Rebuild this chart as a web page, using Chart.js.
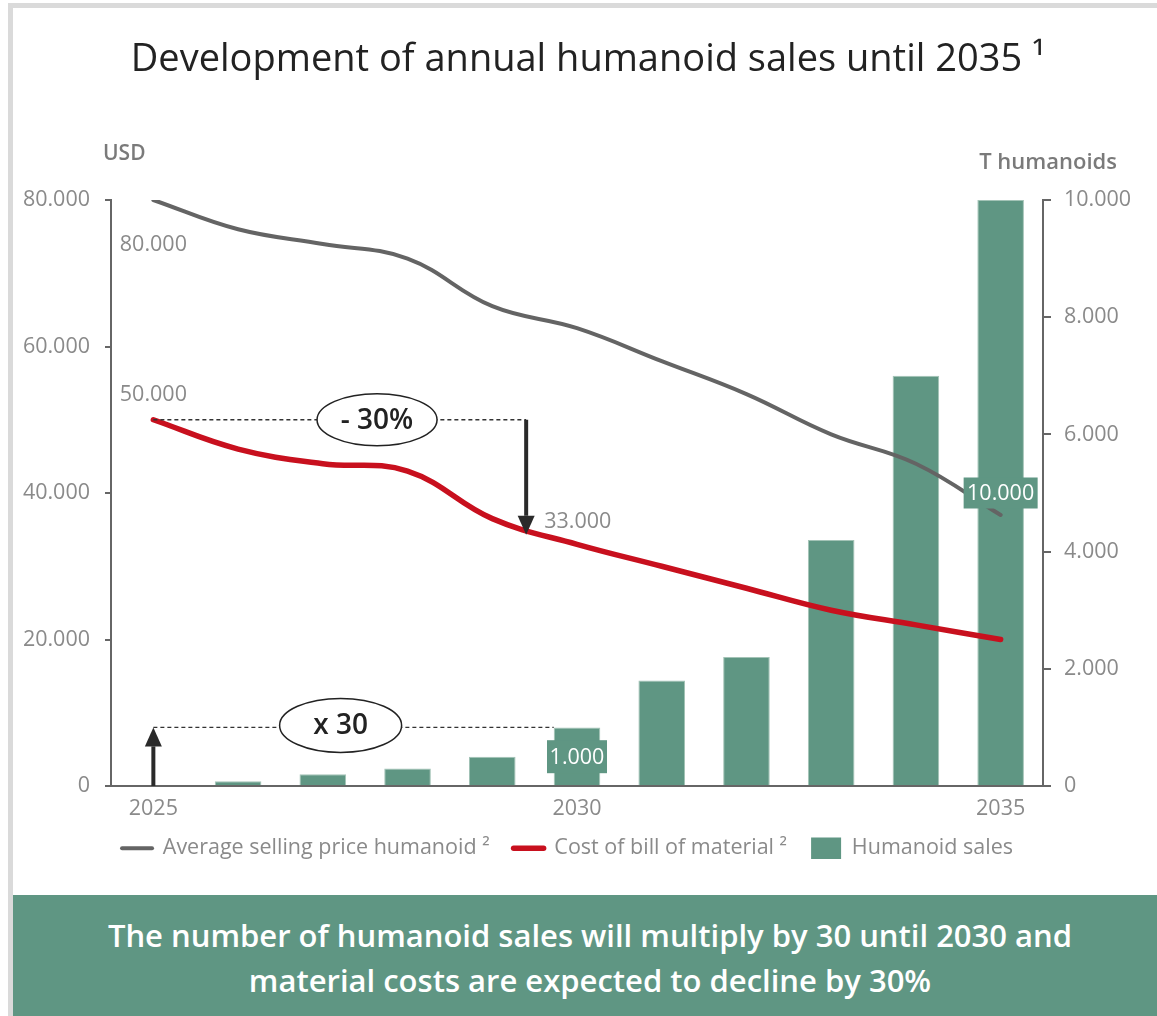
<!DOCTYPE html>
<html><head><meta charset="utf-8">
<script src="https://cdn.jsdelivr.net/npm/chart.js@4.4.1/dist/chart.umd.min.js"></script>
<style>
html,body{margin:0;padding:0;background:#fff;width:1157px;height:1016px;overflow:hidden;font-family:'Open Sans',sans-serif;}
#frame{position:absolute;left:8px;top:3px;width:1170px;height:1100px;border:5px solid #dadada;box-sizing:border-box;}
#title{position:absolute;left:0;width:1176px;top:37px;text-align:center;font-size:38px;line-height:38px;font-weight:500;color:#222;white-space:nowrap;}
#wrap{position:absolute;left:0;top:0;width:1157px;height:890px;}
.axt{position:absolute;font-weight:600;color:#7a7a7a;white-space:nowrap;}
#banner{position:absolute;left:13px;top:895px;width:1154px;height:130px;background:#5f9683;color:#fff;font-size:31px;font-weight:600;text-align:center;line-height:45px;box-sizing:border-box;padding-top:18px;}
</style></head>
<body>
<div id="frame"></div>
<div id="wrap"><canvas id="c"></canvas></div>
<div id="title">Development of annual humanoid sales until 2035 ¹</div>
<div class="axt" style="left:103px;top:142px;font-size:21px;line-height:21px;">USD</div>
<div class="axt" style="right:40px;top:149px;font-size:22px;line-height:22px;">T humanoids</div>
<div id="banner">The number of humanoid sales will multiply by 30 until 2030 and<br>material costs are expected to decline by 30%</div>
<script>
const years = ['2025','2026','2027','2028','2029','2030','2031','2032','2033','2034','2035'];
const xTickLabels = ['2025','','','','','2030','','','','','2035'];
const aspUsd = [80000,76000,74000,72000,65500,62500,58000,53500,48000,44000,37000];
const bomUsd = [50000,46000,44000,43000,36500,33000,30000,27000,24000,22000,20000];
const salesT = [0,80,200,300,500,1000,1800,2200,4200,7000,10000];
const usdTicks = [0,20000,40000,60000,80000];
const unitTicks = [0,2000,4000,6000,8000,10000];
const seriesNames = ['Average selling price humanoid ²','Cost of bill of material ²','Humanoid sales'];
const bomStart = 50000, bomTarget = 33000, bomArrowEnd = 34300;
const salesStart = 0, salesTarget = 1000;
const dropLabel = '- 30%', growLabel = 'x 30';

const fmt = v => String(v).replace(/\B(?=(\d{3})+(?!\d))/g, '.');
const GREY = '#646464', RED = '#c8101e', GREEN = '#5f9683', TXT = '#8a8a8a', AX = '#666666';
const FONT = '"Open Sans", sans-serif';
const FS = 21.5;

function ellipseLabel(ctx, cx, cy, rx, ry, text) {
  ctx.save();
  ctx.beginPath();
  ctx.ellipse(cx, cy, rx, ry, 0, 0, Math.PI * 2);
  ctx.fillStyle = '#fff'; ctx.fill();
  ctx.lineWidth = 1.5; ctx.strokeStyle = '#222'; ctx.stroke();
  ctx.fillStyle = '#222'; ctx.font = '600 28px ' + FONT;
  ctx.textAlign = 'center'; ctx.textBaseline = 'middle';
  ctx.fillText(text, cx, cy + 1);
  ctx.restore();
}
function arrow(ctx, x, y0, y1) {
  const dir = y1 > y0 ? 1 : -1, hh = 19, hw = 8.5;
  ctx.save();
  ctx.strokeStyle = '#2a2a2a'; ctx.fillStyle = '#2a2a2a'; ctx.lineWidth = 4;
  ctx.beginPath(); ctx.moveTo(x, y0); ctx.lineTo(x, y1 - dir * hh); ctx.stroke();
  ctx.beginPath(); ctx.moveTo(x, y1); ctx.lineTo(x - hw, y1 - dir * hh); ctx.lineTo(x + hw, y1 - dir * hh); ctx.closePath(); ctx.fill();
  ctx.restore();
}
function dashed(ctx, x0, x1, y) {
  ctx.save(); ctx.setLineDash([4, 3]); ctx.lineWidth = 1.3; ctx.strokeStyle = '#333';
  ctx.beginPath(); ctx.moveTo(x0, y); ctx.lineTo(x1, y); ctx.stroke(); ctx.restore();
}
function boxLabel(ctx, cx, cy, w, h, text) {
  ctx.save(); ctx.fillStyle = GREEN; ctx.fillRect(cx - w / 2, cy - h / 2, w, h);
  ctx.fillStyle = '#fff'; ctx.font = FS + 'px ' + FONT; ctx.textAlign = 'center'; ctx.textBaseline = 'middle';
  ctx.fillText(text, cx, cy + 1); ctx.restore();
}

const legendShift = {
  id: 'legendShift',
  afterLayout(chart) {
    if (chart.legend) { chart.legend.top -= 13; chart.legend.bottom -= 13; }
  }
};

const annot = {
  id: 'annot',
  afterDatasetsDraw(chart) {
    const { ctx, scales: { x, yL, yR } } = chart;
    const x0 = x.getPixelForValue(0), step = x.getPixelForValue(1) - x0;
    const px = i => x0 + i * step;
    const last = years.length - 1, i2030 = years.indexOf('2030');
    const yb = yL.getPixelForValue(bomStart);
    dashed(ctx, px(0), px(4.4), yb);
    arrow(ctx, px(4.4), yb, yL.getPixelForValue(bomArrowEnd));
    ellipseLabel(ctx, px(2.64), yb, 60, 26, dropLabel);
    const ys = yR.getPixelForValue(salesTarget);
    dashed(ctx, px(0), px(i2030 - 0.275), ys);
    arrow(ctx, px(0), yR.getPixelForValue(salesStart), ys);
    ellipseLabel(ctx, px(2.21), ys - 2, 61, 27, growLabel);
    ctx.save();
    ctx.font = FS + 'px ' + FONT; ctx.fillStyle = TXT; ctx.textBaseline = 'middle'; ctx.textAlign = 'center';
    ctx.fillText(fmt(aspUsd[0]), px(0), yL.getPixelForValue(aspUsd[0]) + 45);
    ctx.fillText(fmt(bomUsd[0]), px(0), yb - 25);
    ctx.textAlign = 'left';
    ctx.fillText(fmt(bomTarget), px(4.4) + 18, yL.getPixelForValue(bomArrowEnd) - 13);
    ctx.restore();
    boxLabel(ctx, px(last), yR.getPixelForValue(salesT[last] / 2), 74, 31, fmt(salesT[last]));
    boxLabel(ctx, px(i2030), yR.getPixelForValue(salesT[i2030] / 2), 60, 33, fmt(salesT[i2030]));
  }
};

function build() {
  new Chart(document.getElementById('c'), {
    data: {
      labels: years,
      datasets: [
        { type: 'line', label: seriesNames[0], data: aspUsd, yAxisID: 'yL', borderColor: GREY, borderWidth: 4, tension: 0.4, pointRadius: 0, borderCapStyle: 'round', order: 1 },
        { type: 'line', label: seriesNames[1], data: bomUsd, yAxisID: 'yL', borderColor: RED, borderWidth: 5.5, tension: 0.4, pointRadius: 0, borderCapStyle: 'round', order: 2 },
        { type: 'bar', label: seriesNames[2], data: salesT, yAxisID: 'yR', backgroundColor: GREEN, borderColor: '#a3c3b6', borderWidth: { top: 1, left: 1, right: 1, bottom: 0 }, borderSkipped: false, barPercentage: 0.55, categoryPercentage: 1, order: 3 }
      ]
    },
    options: {
      responsive: true, maintainAspectRatio: false, animation: false,
      layout: { padding: { top: 200, left: 0, right: 22, bottom: 8 } },
      plugins: {
        tooltip: { enabled: false },
        legend: {
          position: 'bottom',
          labels: {
            usePointStyle: true, pointStyleWidth: 30, padding: 24, color: TXT,
            font: { family: FONT, size: 21.5 },
            generateLabels: () => [
              { text: seriesNames[0], fillStyle: GREY, strokeStyle: GREY, lineWidth: 4, lineCap: 'round', pointStyle: 'line', fontColor: TXT, hidden: false, datasetIndex: 0 },
              { text: seriesNames[1], fillStyle: RED, strokeStyle: RED, lineWidth: 5.5, lineCap: 'round', pointStyle: 'line', fontColor: TXT, hidden: false, datasetIndex: 1 },
              { text: seriesNames[2], fillStyle: GREEN, strokeStyle: GREEN, lineWidth: 0, pointStyle: 'rect', fontColor: TXT, hidden: false, datasetIndex: 2 }
            ]
          }
        }
      },
      scales: {
        x: {
          type: 'category', offset: true,
          grid: { display: false, drawTicks: false },
          border: { display: true, color: AX, width: 2 },
          ticks: { autoSkip: false, maxRotation: 0, color: TXT, font: { family: FONT, size: FS }, padding: 10, callback: (v, i) => xTickLabels[i] },
          afterFit: s => { s.height = 40.5; }
        },
        yL: {
          type: 'linear', position: 'left', min: 0, max: 80000,
          afterBuildTicks: s => { s.ticks = usdTicks.map(v => ({ value: v })); },
          ticks: { color: TXT, font: { family: FONT, size: FS }, padding: 15, callback: v => fmt(v) },
          grid: { drawOnChartArea: false, drawTicks: true, tickLength: 6, color: AX, lineWidth: 2 },
          border: { display: true, color: AX, width: 2 },
          afterFit: s => { s.width = 111; }
        },
        yR: {
          type: 'linear', position: 'right', min: 0, max: 10000,
          afterBuildTicks: s => { s.ticks = unitTicks.map(v => ({ value: v })); },
          ticks: { color: TXT, font: { family: FONT, size: FS }, padding: 13, callback: v => fmt(v) },
          grid: { drawOnChartArea: false, drawTicks: true, tickLength: 8, color: AX, lineWidth: 2 },
          border: { display: true, color: AX, width: 2 },
          afterFit: s => { s.width = 92; }
        }
      }
    },
    plugins: [annot, legendShift]
  });
}
(document.fonts && document.fonts.load ? Promise.all([document.fonts.load('20px "Open Sans"'), document.fonts.load('600 28px "Open Sans"')]) : Promise.resolve()).then(build, build);
</script>
</body></html>
